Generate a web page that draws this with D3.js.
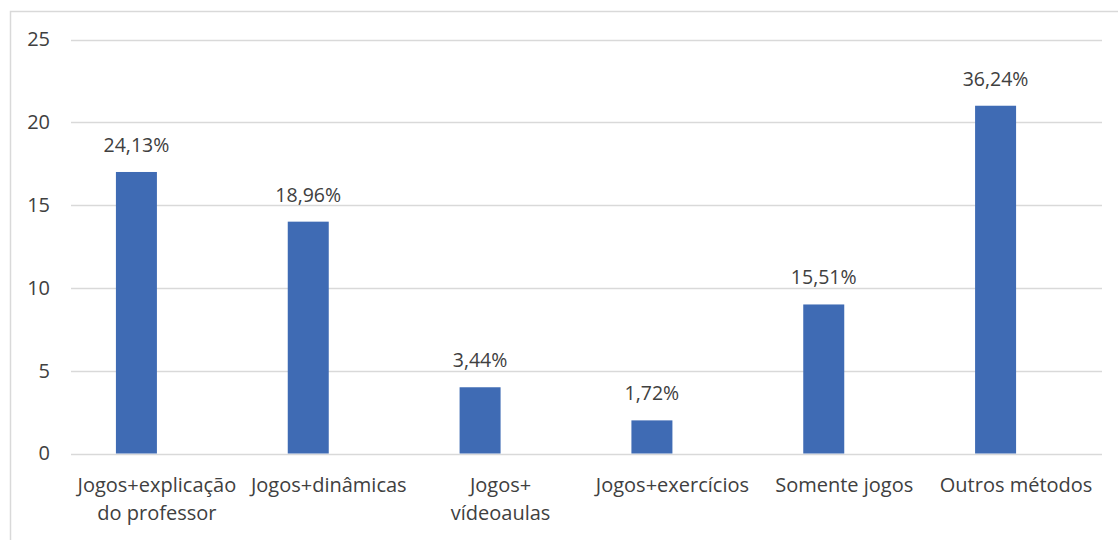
<!DOCTYPE html>
<html>
<head>
<meta charset="utf-8">
<script src="https://cdn.jsdelivr.net/npm/d3@7/dist/d3.min.js"></script>
<style>
  html, body { margin: 0; padding: 0; background: #fff; }
  svg { display: block; }
  text { font-family: "Open Sans", "Noto Sans", sans-serif; fill: #404040; }
</style>
</head>
<body>
<svg id="chart" width="1118" height="540"></svg>
<script>
// Categories (line breaks mark the wrapped axis labels)
const categories = [
  "Jogos+explicação\ndo professor",
  "Jogos+dinâmicas",
  "Jogos+\nvídeoaulas",
  "Jogos+exercícios",
  "Somente jogos",
  "Outros métodos"
];
// Number of answers per method
const counts = [17, 14, 4, 2, 9, 21];
// Share labels printed above each bar
const shareLabels = ["24,13%", "18,96%", "3,44%", "1,72%", "15,51%", "36,24%"];
// Series slots in each group (second slot is empty)
const seriesSlots = ["Quantidade", "vazio"];
const yTicks = [0, 5, 10, 15, 20, 25];

const svg = d3.select("#chart");
const W = 1118, H = 540;
const margin = { left: 71, right: 16, top: 39.5, bottom: 86.5 };

// Chart frame
svg.append("path")
  .attr("d", `M10.5,${H} V11.5 H${W}`)
  .attr("fill", "none")
  .attr("stroke", "#d9d9d9")
  .attr("stroke-width", 1.5);

const x = d3.scaleBand()
  .domain(categories)
  .range([margin.left, W - margin.right])
  .paddingInner(0)
  .paddingOuter(0);

const groupW = 82;
const x1 = d3.scaleBand()
  .domain(seriesSlots)
  .range([-groupW / 2, groupW / 2]);

const y = d3.scaleLinear()
  .domain([0, 25])
  .range([H - margin.bottom, margin.top]);

// Gridlines
svg.append("g")
  .selectAll("line")
  .data(yTicks)
  .join("line")
  .attr("x1", margin.left)
  .attr("x2", W - margin.right)
  .attr("y1", d => Math.round(y(d)) + 0.5)
  .attr("y2", d => Math.round(y(d)) + 0.5)
  .attr("stroke", "#d9d9d9")
  .attr("stroke-width", 1.5);

// Y axis labels
const yAxis = d3.axisLeft(y).tickValues(yTicks).tickSize(0).tickPadding(0);
const gy = svg.append("g")
  .attr("transform", `translate(50,0)`)
  .call(yAxis);
gy.select(".domain").remove();
gy.selectAll("text")
  .attr("font-size", 20)
  .attr("font-family", "'Open Sans', sans-serif")
  .attr("fill", "#404040");

// Bars
const bars = svg.append("g");
bars.selectAll("rect")
  .data(counts)
  .join("rect")
  .attr("x", (d, i) => x(categories[i]) + x.bandwidth() / 2 + x1(seriesSlots[0]))
  .attr("width", x1.bandwidth())
  .attr("y", d => y(d))
  .attr("height", d => y(0) - y(d))
  .attr("fill", "#3f6bb4");

// Value labels
svg.append("g")
  .selectAll("text")
  .data(counts)
  .join("text")
  .attr("x", (d, i) => x(categories[i]) + x.bandwidth() / 2 + x1(seriesSlots[0]) + x1.bandwidth() / 2)
  .attr("y", d => y(d) - 20)
  .attr("text-anchor", "middle")
  .attr("font-size", 19.5)
  .text((d, i) => shareLabels[i]);

// Category labels
const cat = svg.append("g");
categories.forEach(c => {
  const t = cat.append("text")
    .attr("x", x(c) + x.bandwidth() / 2)
    .attr("y", y(0) + 38)
    .attr("text-anchor", "middle")
    .attr("font-size", 20);
  c.split("\n").forEach((line, k) => {
    t.append("tspan")
      .attr("x", x(c) + x.bandwidth() / 2)
      .attr("dy", k === 0 ? 0 : 28.5)
      .text(line);
  });
});
</script>
</body>
</html>
